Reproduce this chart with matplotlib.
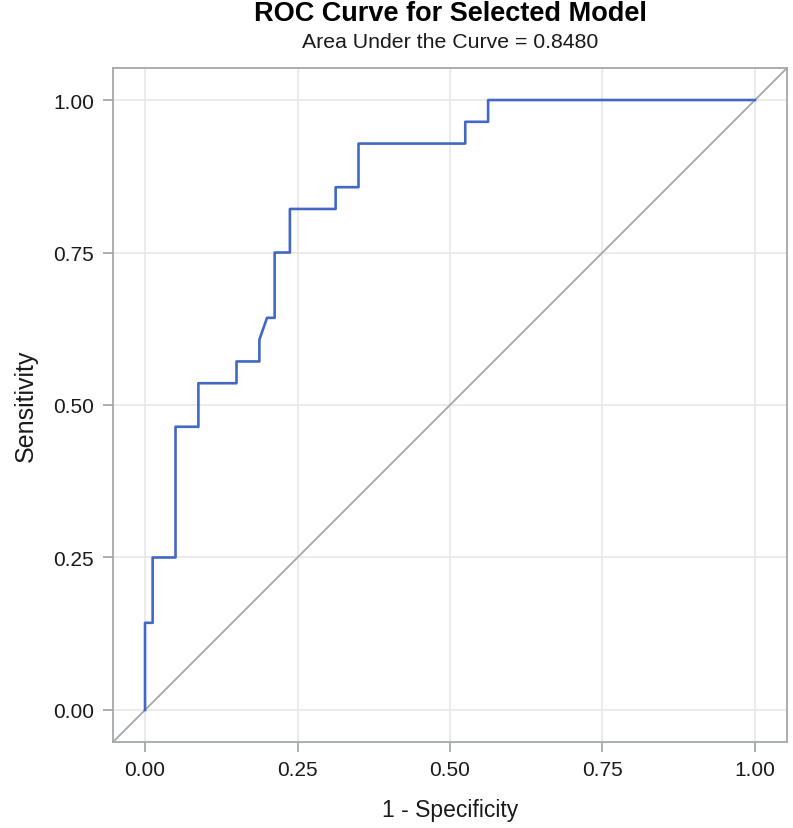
import numpy as np
import matplotlib
matplotlib.use("Agg")
import matplotlib.pyplot as plt

plt.rcParams['font.family'] = ['Liberation Sans', 'DejaVu Sans']

# ROC curve vertices (1 - specificity, sensitivity)
fpr = [0.0, 0.0, 0.0125, 0.0125, 0.05, 0.05, 0.0875, 0.0875, 0.15, 0.15,
       0.1875, 0.1875, 0.2, 0.2125, 0.2125, 0.2375, 0.2375, 0.3125, 0.3125,
       0.35, 0.35, 0.525, 0.525, 0.5625, 0.5625, 1.0]
tpr = [0.0, 0.1429, 0.1429, 0.25, 0.25, 0.4643, 0.4643, 0.5357, 0.5357, 0.5714,
       0.5714, 0.6071, 0.6429, 0.6429, 0.75, 0.75, 0.8214, 0.8214, 0.8571,
       0.8571, 0.9286, 0.9286, 0.9643, 0.9643, 1.0, 1.0]
auc = 0.8480
ticks = [0.0, 0.25, 0.5, 0.75, 1.0]
tick_labels = ["0.00", "0.25", "0.50", "0.75", "1.00"]

W, H = 793, 829
fig = plt.figure(figsize=(W / 100, H / 100), dpi=100)
# plot box: left 113, right 787, top 69, bottom 743 (pixels)
ax = fig.add_axes([113 / W, 1 - 743 / H, 674 / W, 674 / H])

ax.set_xlim(-0.0525, 1.0525)
ax.set_ylim(-0.0525, 1.0525)

ax.grid(True, color='#e8e8e8', linewidth=1.2)
ax.set_axisbelow(True)

ax.axline((0, 0), (1, 1), color='#a4a8ac', linewidth=1.3, zorder=2)
ax.plot(fpr, tpr, color='#4368c4', linewidth=1.9, zorder=3)

ax.set_xticks(ticks)
ax.set_xticklabels(tick_labels)
ax.set_yticks(ticks)
ax.set_yticklabels(tick_labels)

for s in ax.spines.values():
    s.set_color('#a4a8ac')
    s.set_linewidth(1.3)
ax.tick_params(colors='#a4a8ac', labelcolor='#1a1a1a', labelsize=15,
               length=7, width=1.3)
ax.tick_params(axis='x', pad=6)
ax.tick_params(axis='y', pad=6.5)

ax.set_xlabel("1 - Specificity", fontsize=16.5, color='#1a1a1a', va='center')
ax.xaxis.set_label_coords(0.5, (743 - 811) / 674)
ax.set_ylabel("Sensitivity", fontsize=18, color='#1a1a1a', va='center')
ax.yaxis.set_label_coords((26 - 113) / 674, 0.5)

cx = 450 / W
fig.text(cx, 1 - 14 / H, "ROC Curve for Selected Model", ha='center', va='center',
         fontsize=19.5, fontweight='bold', color='black')
fig.text(cx, 1 - 43 / H, "Area Under the Curve = %.4f" % auc, ha='center',
         va='center', fontsize=15.3, color='#1a1a1a')

fig.savefig("out.png", dpi=100)
